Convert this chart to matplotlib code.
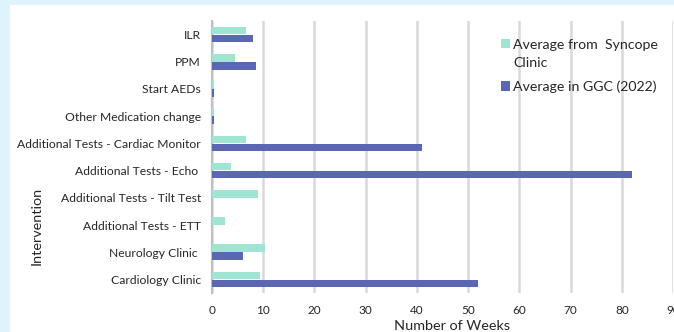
import numpy as np
import matplotlib.pyplot as plt
from matplotlib.patches import Rectangle
from matplotlib.legend_handler import HandlerPatch, update_from_first_child

plt.rcParams['font.family'] = ['Lato', 'DejaVu Sans']

# categories listed bottom to top
categories = ["Cardiology Clinic", "Neurology Clinic ", "Additional Tests - ETT",
              "Additional Tests - Tilt Test", "Additional Tests - Echo ",
              "Additional Tests - Cardiac Monitor", "Other Medication change",
              "Start AEDs", "PPM", "ILR"]
syncope_weeks = [9.3, 10.3, 2.5, 9.0, 3.7, 6.6, 0.4, 0.4, 4.5, 6.6]
ggc_weeks = [52.0, 6.0, 0.0, 0.0, 82.0, 41.0, 0.4, 0.4, 8.6, 8.0]
x_ticks = [0, 10, 20, 30, 40, 50, 60, 70, 80, 90]

teal = "#a0e4d3"
blue = "#5c67b3"
text_col = "#262626"

fig = plt.figure(figsize=(6.74, 3.32), dpi=100)
fig.patch.set_facecolor("#def3fb")
fig.patches.append(Rectangle((10 / 674, 0), 1, 1 - 5 / 332,
                             transform=fig.transFigure, facecolor="white",
                             edgecolor="none", zorder=-5))

ax = fig.add_axes([212 / 674, 1 - 293 / 332, 461 / 674, 272 / 332])
ax.set_facecolor("none")

y = np.arange(len(categories))
h = 0.28
bars_s = ax.barh(y + 0.15, syncope_weeks, height=h, color=teal, zorder=3,
                 label="Average from  Syncope\nClinic")
bars_g = ax.barh(y - 0.15, ggc_weeks, height=h, color=blue, zorder=3,
                 label="Average in GGC (2022)")

ax.set_xlim(0, 90)
ax.set_ylim(-0.5, 9.5)
ax.set_xticks(x_ticks)
ax.set_yticks(y)
ax.set_yticklabels(categories)
ax.tick_params(axis="both", length=0, colors=text_col)
ax.tick_params(axis="x", pad=9, labelsize=8.5)
ax.tick_params(axis="y", pad=8, labelsize=8.7)
ax.grid(axis="x", color="#d9d9d9", linewidth=1.8, zorder=0)
for s in ["top", "right", "bottom"]:
    ax.spines[s].set_visible(False)
ax.spines["left"].set_color("#bfbfbf")
ax.spines["left"].set_linewidth(1.5)

ax.set_xlabel("Number of Weeks", fontsize=10.4, color=text_col)
ax.xaxis.set_label_coords((452 - 212) / 461, (293 - 326) / 272)
ax.xaxis.label.set_va("center")
ax.set_ylabel("Intervention", fontsize=10.4, color=text_col)
ax.yaxis.set_label_coords((37 - 212) / 461, (293 - 226) / 272)
ax.yaxis.label.set_va("center")


# put the swatch of the two-line entry next to its first line
def top_swatch(legend, orig_handle, xdescent, ydescent, width, height, fontsize):
    return Rectangle((-xdescent, -ydescent + 0.75 * fontsize), width, height)


leg = ax.legend(loc="upper left", bbox_to_anchor=(494 / 674, 1 - 32 / 332),
                bbox_transform=fig.transFigure, frameon=False, fontsize=10.2,
                handlelength=0.65, handleheight=0.65, handletextpad=0.2,
                labelspacing=0.85, borderpad=0,
                handler_map={bars_s: HandlerPatch(patch_func=top_swatch,
                                                  update_func=update_from_first_child)})
for t in leg.get_texts():
    t.set_color(text_col)
    t.set_linespacing(1.55)

fig.savefig("out.png", dpi=100, facecolor=fig.get_facecolor())
